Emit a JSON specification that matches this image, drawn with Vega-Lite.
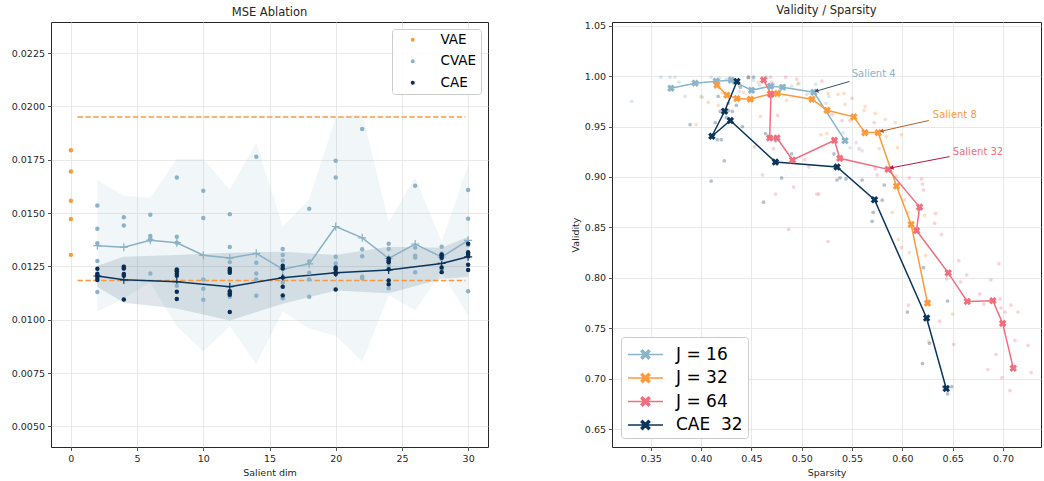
{
  "$schema": "https://vega.github.io/schema/vega-lite/v6.json",
  "background": "white",
  "padding": {"left": 10, "top": 4, "right": 2, "bottom": 2},
  "spacing": 80,
  "config": {
    "font": "DejaVu Sans",
    "view": {"stroke": "#262626", "strokeWidth": 1},
    "axis": {"domain": false, "grid": true, "gridColor": "#e3e3e3", "gridWidth": 0.8, "tickColor": "#262626", "tickSize": 3.5, "tickWidth": 0.8, "labelFont": "DejaVu Sans", "labelFontSize": 9.5, "labelColor": "#262626", "labelPadding": 3, "titleFont": "DejaVu Sans", "titleFontSize": 9.5, "titleFontWeight": "normal", "titleColor": "#262626", "titlePadding": 4},
    "title": {"font": "DejaVu Sans", "fontSize": 11.5, "fontWeight": "normal", "color": "#262626", "offset": 4}
  },
  "resolve": {"scale": {"color": "independent", "fill": "independent", "stroke": "independent"}, "legend": {"color": "independent", "fill": "independent", "stroke": "independent"}},
  "datasets": {
    "mse": [
      {"model": "VAE", "dim": 0, "mse": 0.01795}, {"model": "VAE", "dim": 0, "mse": 0.01695}, {"model": "VAE", "dim": 0, "mse": 0.01558}, {"model": "VAE", "dim": 0, "mse": 0.01472}, {"model": "VAE", "dim": 0, "mse": 0.01304},
      {"model": "CVAE", "dim": 2, "mse": 0.01536}, {"model": "CVAE", "dim": 2, "mse": 0.01426}, {"model": "CVAE", "dim": 2, "mse": 0.01358}, {"model": "CVAE", "dim": 2, "mse": 0.01275}, {"model": "CVAE", "dim": 2, "mse": 0.0113},
      {"model": "CVAE", "dim": 4, "mse": 0.0148}, {"model": "CVAE", "dim": 4, "mse": 0.01442}, {"model": "CVAE", "dim": 4, "mse": 0.01248}, {"model": "CVAE", "dim": 4, "mse": 0.0124}, {"model": "CVAE", "dim": 4, "mse": 0.0121},
      {"model": "CVAE", "dim": 6, "mse": 0.01492}, {"model": "CVAE", "dim": 6, "mse": 0.01392}, {"model": "CVAE", "dim": 6, "mse": 0.0138}, {"model": "CVAE", "dim": 6, "mse": 0.01375}, {"model": "CVAE", "dim": 6, "mse": 0.01217},
      {"model": "CVAE", "dim": 8, "mse": 0.01667}, {"model": "CVAE", "dim": 8, "mse": 0.01389}, {"model": "CVAE", "dim": 8, "mse": 0.01361}, {"model": "CVAE", "dim": 8, "mse": 0.0123}, {"model": "CVAE", "dim": 8, "mse": 0.01159},
      {"model": "CVAE", "dim": 10, "mse": 0.01605}, {"model": "CVAE", "dim": 10, "mse": 0.01477}, {"model": "CVAE", "dim": 10, "mse": 0.01189}, {"model": "CVAE", "dim": 10, "mse": 0.01145}, {"model": "CVAE", "dim": 10, "mse": 0.01094},
      {"model": "CVAE", "dim": 12, "mse": 0.01495}, {"model": "CVAE", "dim": 12, "mse": 0.01341}, {"model": "CVAE", "dim": 12, "mse": 0.0127}, {"model": "CVAE", "dim": 12, "mse": 0.0123}, {"model": "CVAE", "dim": 12, "mse": 0.01108},
      {"model": "CVAE", "dim": 14, "mse": 0.01764}, {"model": "CVAE", "dim": 14, "mse": 0.01267}, {"model": "CVAE", "dim": 14, "mse": 0.01217}, {"model": "CVAE", "dim": 14, "mse": 0.01189}, {"model": "CVAE", "dim": 14, "mse": 0.01112},
      {"model": "CVAE", "dim": 16, "mse": 0.01331}, {"model": "CVAE", "dim": 16, "mse": 0.01303}, {"model": "CVAE", "dim": 16, "mse": 0.01277}, {"model": "CVAE", "dim": 16, "mse": 0.01174}, {"model": "CVAE", "dim": 16, "mse": 0.011},
      {"model": "CVAE", "dim": 18, "mse": 0.0152}, {"model": "CVAE", "dim": 18, "mse": 0.01273}, {"model": "CVAE", "dim": 18, "mse": 0.0122}, {"model": "CVAE", "dim": 18, "mse": 0.0119}, {"model": "CVAE", "dim": 18, "mse": 0.01108},
      {"model": "CVAE", "dim": 20, "mse": 0.01745}, {"model": "CVAE", "dim": 20, "mse": 0.01667}, {"model": "CVAE", "dim": 20, "mse": 0.01295}, {"model": "CVAE", "dim": 20, "mse": 0.01264}, {"model": "CVAE", "dim": 20, "mse": 0.01241},
      {"model": "CVAE", "dim": 22, "mse": 0.01894}, {"model": "CVAE", "dim": 22, "mse": 0.0133}, {"model": "CVAE", "dim": 22, "mse": 0.01298}, {"model": "CVAE", "dim": 22, "mse": 0.01201}, {"model": "CVAE", "dim": 22, "mse": 0.01194},
      {"model": "CVAE", "dim": 24, "mse": 0.01356}, {"model": "CVAE", "dim": 24, "mse": 0.01331}, {"model": "CVAE", "dim": 24, "mse": 0.01275}, {"model": "CVAE", "dim": 24, "mse": 0.01253}, {"model": "CVAE", "dim": 24, "mse": 0.01147},
      {"model": "CVAE", "dim": 26, "mse": 0.01628}, {"model": "CVAE", "dim": 26, "mse": 0.01339}, {"model": "CVAE", "dim": 26, "mse": 0.013}, {"model": "CVAE", "dim": 26, "mse": 0.01292}, {"model": "CVAE", "dim": 26, "mse": 0.01222},
      {"model": "CVAE", "dim": 28, "mse": 0.01342}, {"model": "CVAE", "dim": 28, "mse": 0.0131}, {"model": "CVAE", "dim": 28, "mse": 0.01298}, {"model": "CVAE", "dim": 28, "mse": 0.01285}, {"model": "CVAE", "dim": 28, "mse": 0.01235},
      {"model": "CVAE", "dim": 30, "mse": 0.01608}, {"model": "CVAE", "dim": 30, "mse": 0.01473}, {"model": "CVAE", "dim": 30, "mse": 0.0135}, {"model": "CVAE", "dim": 30, "mse": 0.01296}, {"model": "CVAE", "dim": 30, "mse": 0.01133},
      {"model": "CAE", "dim": 2, "mse": 0.01239}, {"model": "CAE", "dim": 2, "mse": 0.01215}, {"model": "CAE", "dim": 2, "mse": 0.01208}, {"model": "CAE", "dim": 2, "mse": 0.01197}, {"model": "CAE", "dim": 2, "mse": 0.01186},
      {"model": "CAE", "dim": 4, "mse": 0.01248}, {"model": "CAE", "dim": 4, "mse": 0.0124}, {"model": "CAE", "dim": 4, "mse": 0.01214}, {"model": "CAE", "dim": 4, "mse": 0.01206}, {"model": "CAE", "dim": 4, "mse": 0.01095},
      {"model": "CAE", "dim": 8, "mse": 0.01236}, {"model": "CAE", "dim": 8, "mse": 0.01227}, {"model": "CAE", "dim": 8, "mse": 0.01217}, {"model": "CAE", "dim": 8, "mse": 0.01206}, {"model": "CAE", "dim": 8, "mse": 0.01131}, {"model": "CAE", "dim": 8, "mse": 0.01097},
      {"model": "CAE", "dim": 12, "mse": 0.01239}, {"model": "CAE", "dim": 12, "mse": 0.0123}, {"model": "CAE", "dim": 12, "mse": 0.0122}, {"model": "CAE", "dim": 12, "mse": 0.01133}, {"model": "CAE", "dim": 12, "mse": 0.01123}, {"model": "CAE", "dim": 12, "mse": 0.01117}, {"model": "CAE", "dim": 12, "mse": 0.01036},
      {"model": "CAE", "dim": 16, "mse": 0.01253}, {"model": "CAE", "dim": 16, "mse": 0.0124}, {"model": "CAE", "dim": 16, "mse": 0.01198}, {"model": "CAE", "dim": 16, "mse": 0.01154}, {"model": "CAE", "dim": 16, "mse": 0.01114},
      {"model": "CAE", "dim": 20, "mse": 0.01245}, {"model": "CAE", "dim": 20, "mse": 0.01237}, {"model": "CAE", "dim": 20, "mse": 0.01223}, {"model": "CAE", "dim": 20, "mse": 0.01214}, {"model": "CAE", "dim": 20, "mse": 0.01142},
      {"model": "CAE", "dim": 24, "mse": 0.01287}, {"model": "CAE", "dim": 24, "mse": 0.01278}, {"model": "CAE", "dim": 24, "mse": 0.01269}, {"model": "CAE", "dim": 24, "mse": 0.01237}, {"model": "CAE", "dim": 24, "mse": 0.01184}, {"model": "CAE", "dim": 24, "mse": 0.01166},
      {"model": "CAE", "dim": 28, "mse": 0.01306}, {"model": "CAE", "dim": 28, "mse": 0.013}, {"model": "CAE", "dim": 28, "mse": 0.0129}, {"model": "CAE", "dim": 28, "mse": 0.01245}, {"model": "CAE", "dim": 28, "mse": 0.01223},
      {"model": "CAE", "dim": 30, "mse": 0.01356}, {"model": "CAE", "dim": 30, "mse": 0.01316}, {"model": "CAE", "dim": 30, "mse": 0.01308}, {"model": "CAE", "dim": 30, "mse": 0.01298}, {"model": "CAE", "dim": 30, "mse": 0.01258}, {"model": "CAE", "dim": 30, "mse": 0.01233}
    ],
    "stats": [
      {"model": "CVAE", "dim": 2, "mean": 0.01347, "lo": 0.01039, "hi": 0.01655},
      {"model": "CVAE", "dim": 4, "mean": 0.0134, "lo": 0.01099, "hi": 0.01581},
      {"model": "CVAE", "dim": 6, "mean": 0.01373, "lo": 0.01174, "hi": 0.01572},
      {"model": "CVAE", "dim": 8, "mean": 0.01361, "lo": 0.00969, "hi": 0.01753},
      {"model": "CVAE", "dim": 10, "mean": 0.01302, "lo": 0.00851, "hi": 0.01753},
      {"model": "CVAE", "dim": 12, "mean": 0.01289, "lo": 0.00968, "hi": 0.0161},
      {"model": "CVAE", "dim": 14, "mean": 0.01311, "lo": 0.00792, "hi": 0.0183},
      {"model": "CVAE", "dim": 16, "mean": 0.01237, "lo": 0.01038, "hi": 0.01436},
      {"model": "CVAE", "dim": 18, "mean": 0.01262, "lo": 0.00959, "hi": 0.01565},
      {"model": "CVAE", "dim": 20, "mean": 0.01437, "lo": 0.00925, "hi": 0.01949},
      {"model": "CVAE", "dim": 22, "mean": 0.01384, "lo": 0.00804, "hi": 0.01964},
      {"model": "CVAE", "dim": 24, "mean": 0.01287, "lo": 0.01115, "hi": 0.01459},
      {"model": "CVAE", "dim": 26, "mean": 0.01355, "lo": 0.01043, "hi": 0.01667},
      {"model": "CVAE", "dim": 28, "mean": 0.01294, "lo": 0.01222, "hi": 0.01366},
      {"model": "CVAE", "dim": 30, "mean": 0.01372, "lo": 0.01019, "hi": 0.01725},
      {"model": "CAE", "dim": 2, "mean": 0.01205, "lo": 0.01155, "hi": 0.01253},
      {"model": "CAE", "dim": 4, "mean": 0.01187, "lo": 0.01079, "hi": 0.01295},
      {"model": "CAE", "dim": 8, "mean": 0.01178, "lo": 0.01053, "hi": 0.01303},
      {"model": "CAE", "dim": 12, "mean": 0.01155, "lo": 0.00996, "hi": 0.01314},
      {"model": "CAE", "dim": 16, "mean": 0.01197, "lo": 0.01075, "hi": 0.01319},
      {"model": "CAE", "dim": 20, "mean": 0.0122, "lo": 0.01137, "hi": 0.01303},
      {"model": "CAE", "dim": 24, "mean": 0.01233, "lo": 0.01124, "hi": 0.01342},
      {"model": "CAE", "dim": 28, "mean": 0.01264, "lo": 0.01191, "hi": 0.01337},
      {"model": "CAE", "dim": 30, "mean": 0.01295, "lo": 0.01201, "hi": 0.01389}
    ],
    "baselines": [
      {"x0": 0.5, "x1": 29.8, "mse": 0.01951},
      {"x0": 0.5, "x1": 29.8, "mse": 0.01184}
    ],
    "lines": [
      {"series": "J = 16", "i": 0, "s": 0.370, "v": 0.988}, {"series": "J = 16", "i": 1, "s": 0.394, "v": 0.993}, {"series": "J = 16", "i": 2, "s": 0.415, "v": 0.995}, {"series": "J = 16", "i": 3, "s": 0.430, "v": 0.996}, {"series": "J = 16", "i": 4, "s": 0.450, "v": 0.986}, {"series": "J = 16", "i": 5, "s": 0.469, "v": 0.990}, {"series": "J = 16", "i": 6, "s": 0.481, "v": 0.989}, {"series": "J = 16", "i": 7, "s": 0.512, "v": 0.984}, {"series": "J = 16", "i": 8, "s": 0.543, "v": 0.936},
      {"series": "J = 32", "i": 0, "s": 0.4157, "v": 0.9911}, {"series": "J = 32", "i": 1, "s": 0.4256, "v": 0.9811}, {"series": "J = 32", "i": 2, "s": 0.4356, "v": 0.9778}, {"series": "J = 32", "i": 3, "s": 0.4489, "v": 0.9771}, {"series": "J = 32", "i": 4, "s": 0.4688, "v": 0.9824}, {"series": "J = 32", "i": 5, "s": 0.4758, "v": 0.9828}, {"series": "J = 32", "i": 6, "s": 0.5102, "v": 0.9771}, {"series": "J = 32", "i": 7, "s": 0.5251, "v": 0.9662}, {"series": "J = 32", "i": 8, "s": 0.5517, "v": 0.9596}, {"series": "J = 32", "i": 9, "s": 0.5627, "v": 0.944}, {"series": "J = 32", "i": 10, "s": 0.5759, "v": 0.944}, {"series": "J = 32", "i": 11, "s": 0.5942, "v": 0.891}, {"series": "J = 32", "i": 12, "s": 0.6087, "v": 0.8529}, {"series": "J = 32", "i": 13, "s": 0.625, "v": 0.775},
      {"series": "J = 64", "i": 0, "s": 0.4621, "v": 0.9963}, {"series": "J = 64", "i": 1, "s": 0.4694, "v": 0.9821}, {"series": "J = 64", "i": 2, "s": 0.4681, "v": 0.9387}, {"series": "J = 64", "i": 3, "s": 0.4754, "v": 0.9387}, {"series": "J = 64", "i": 4, "s": 0.4908, "v": 0.9168}, {"series": "J = 64", "i": 5, "s": 0.5325, "v": 0.9364}, {"series": "J = 64", "i": 6, "s": 0.5378, "v": 0.9185}, {"series": "J = 64", "i": 7, "s": 0.5858, "v": 0.9076}, {"series": "J = 64", "i": 8, "s": 0.6171, "v": 0.8701}, {"series": "J = 64", "i": 9, "s": 0.6141, "v": 0.8469}, {"series": "J = 64", "i": 10, "s": 0.6456, "v": 0.8049}, {"series": "J = 64", "i": 11, "s": 0.6645, "v": 0.7766}, {"series": "J = 64", "i": 12, "s": 0.69, "v": 0.7773}, {"series": "J = 64", "i": 13, "s": 0.6997, "v": 0.7548}, {"series": "J = 64", "i": 14, "s": 0.7102, "v": 0.7104},
      {"series": "\u00a0CAE\u00a0\u00a032", "i": 0, "s": 0.4356, "v": 0.9947}, {"series": "\u00a0CAE\u00a0\u00a032", "i": 1, "s": 0.4233, "v": 0.9652}, {"series": "\u00a0CAE\u00a0\u00a032", "i": 2, "s": 0.4107, "v": 0.9404}, {"series": "\u00a0CAE\u00a0\u00a032", "i": 3, "s": 0.429, "v": 0.956}, {"series": "\u00a0CAE\u00a0\u00a032", "i": 4, "s": 0.4738, "v": 0.9148}, {"series": "\u00a0CAE\u00a0\u00a032", "i": 5, "s": 0.5351, "v": 0.9099}, {"series": "\u00a0CAE\u00a0\u00a032", "i": 6, "s": 0.5723, "v": 0.8774}, {"series": "\u00a0CAE\u00a0\u00a032", "i": 7, "s": 0.6241, "v": 0.7601}, {"series": "\u00a0CAE\u00a0\u00a032", "i": 8, "s": 0.6436, "v": 0.6902}
    ],
    "cloud": [
      {"series": "J = 16", "s": 0.331, "v": 0.975}, {"series": "J = 16", "s": 0.36, "v": 0.999}, {"series": "J = 16", "s": 0.369, "v": 0.999}, {"series": "J = 16", "s": 0.374, "v": 0.999}, {"series": "J = 16", "s": 0.378, "v": 0.994}, {"series": "J = 16", "s": 0.384, "v": 0.98}, {"series": "J = 16", "s": 0.401, "v": 0.979}, {"series": "J = 16", "s": 0.41, "v": 0.999}, {"series": "J = 16", "s": 0.418, "v": 0.998}, {"series": "J = 16", "s": 0.425, "v": 0.997}, {"series": "J = 16", "s": 0.432, "v": 0.993}, {"series": "J = 16", "s": 0.438, "v": 0.985}, {"series": "J = 16", "s": 0.447, "v": 0.999}, {"series": "J = 16", "s": 0.452, "v": 0.996}, {"series": "J = 16", "s": 0.458, "v": 0.991}, {"series": "J = 16", "s": 0.465, "v": 0.999}, {"series": "J = 16", "s": 0.472, "v": 0.992}, {"series": "J = 16", "s": 0.478, "v": 0.985}, {"series": "J = 16", "s": 0.49, "v": 0.99}, {"series": "J = 16", "s": 0.497, "v": 0.993}, {"series": "J = 16", "s": 0.505, "v": 0.982}, {"series": "J = 16", "s": 0.514, "v": 0.992}, {"series": "J = 16", "s": 0.527, "v": 0.98}, {"series": "J = 16", "s": 0.524, "v": 0.973}, {"series": "J = 16", "s": 0.548, "v": 0.929}, {"series": "J = 16", "s": 0.554, "v": 0.934}, {"series": "J = 16", "s": 0.56, "v": 0.926}, {"series": "J = 16", "s": 0.541, "v": 0.944},
      {"series": "J = 32", "s": 0.395, "v": 0.952}, {"series": "J = 32", "s": 0.4, "v": 0.98}, {"series": "J = 32", "s": 0.407, "v": 0.974}, {"series": "J = 32", "s": 0.417, "v": 0.971}, {"series": "J = 32", "s": 0.421, "v": 0.984}, {"series": "J = 32", "s": 0.429, "v": 0.999}, {"series": "J = 32", "s": 0.442, "v": 0.984}, {"series": "J = 32", "s": 0.457, "v": 0.994}, {"series": "J = 32", "s": 0.459, "v": 0.96}, {"series": "J = 32", "s": 0.485, "v": 0.976}, {"series": "J = 32", "s": 0.496, "v": 0.992}, {"series": "J = 32", "s": 0.447, "v": 0.998}, {"series": "J = 32", "s": 0.438, "v": 0.991}, {"series": "J = 32", "s": 0.526, "v": 0.983}, {"series": "J = 32", "s": 0.536, "v": 0.982}, {"series": "J = 32", "s": 0.542, "v": 0.983}, {"series": "J = 32", "s": 0.543, "v": 0.972}, {"series": "J = 32", "s": 0.562, "v": 0.966}, {"series": "J = 32", "s": 0.563, "v": 0.97}, {"series": "J = 32", "s": 0.573, "v": 0.963}, {"series": "J = 32", "s": 0.583, "v": 0.957}, {"series": "J = 32", "s": 0.593, "v": 0.954}, {"series": "J = 32", "s": 0.599, "v": 0.942}, {"series": "J = 32", "s": 0.584, "v": 0.94}, {"series": "J = 32", "s": 0.595, "v": 0.929}, {"series": "J = 32", "s": 0.577, "v": 0.928}, {"series": "J = 32", "s": 0.519, "v": 0.942}, {"series": "J = 32", "s": 0.525, "v": 0.943}, {"series": "J = 32", "s": 0.59, "v": 0.865}, {"series": "J = 32", "s": 0.606, "v": 0.865}, {"series": "J = 32", "s": 0.596, "v": 0.838}, {"series": "J = 32", "s": 0.607, "v": 0.825}, {"series": "J = 32", "s": 0.622, "v": 0.862}, {"series": "J = 32", "s": 0.623, "v": 0.822}, {"series": "J = 32", "s": 0.594, "v": 0.901}, {"series": "J = 32", "s": 0.65, "v": 0.764}, {"series": "J = 32", "s": 0.626, "v": 0.737}, {"series": "J = 32", "s": 0.602, "v": 0.877},
      {"series": "J = 64", "s": 0.453, "v": 0.93}, {"series": "J = 64", "s": 0.461, "v": 0.902}, {"series": "J = 64", "s": 0.47, "v": 0.994}, {"series": "J = 64", "s": 0.476, "v": 0.961}, {"series": "J = 64", "s": 0.484, "v": 0.999}, {"series": "J = 64", "s": 0.472, "v": 0.928}, {"series": "J = 64", "s": 0.474, "v": 0.883}, {"series": "J = 64", "s": 0.492, "v": 0.89}, {"series": "J = 64", "s": 0.503, "v": 0.917}, {"series": "J = 64", "s": 0.507, "v": 0.91}, {"series": "J = 64", "s": 0.515, "v": 0.883}, {"series": "J = 64", "s": 0.52, "v": 0.995}, {"series": "J = 64", "s": 0.55, "v": 0.978}, {"series": "J = 64", "s": 0.53, "v": 0.962}, {"series": "J = 64", "s": 0.54, "v": 0.956}, {"series": "J = 64", "s": 0.548, "v": 0.956}, {"series": "J = 64", "s": 0.572, "v": 0.954}, {"series": "J = 64", "s": 0.573, "v": 0.908}, {"series": "J = 64", "s": 0.575, "v": 0.902}, {"series": "J = 64", "s": 0.607, "v": 0.899}, {"series": "J = 64", "s": 0.619, "v": 0.898}, {"series": "J = 64", "s": 0.62, "v": 0.893}, {"series": "J = 64", "s": 0.621, "v": 0.887}, {"series": "J = 64", "s": 0.517, "v": 0.883}, {"series": "J = 64", "s": 0.557, "v": 0.928}, {"series": "J = 64", "s": 0.487, "v": 0.848}, {"series": "J = 64", "s": 0.526, "v": 0.836}, {"series": "J = 64", "s": 0.599, "v": 0.83}, {"series": "J = 64", "s": 0.633, "v": 0.864}, {"series": "J = 64", "s": 0.632, "v": 0.854}, {"series": "J = 64", "s": 0.639, "v": 0.843}, {"series": "J = 64", "s": 0.644, "v": 0.799}, {"series": "J = 64", "s": 0.606, "v": 0.773}, {"series": "J = 64", "s": 0.656, "v": 0.817}, {"series": "J = 64", "s": 0.664, "v": 0.803}, {"series": "J = 64", "s": 0.658, "v": 0.796}, {"series": "J = 64", "s": 0.677, "v": 0.784}, {"series": "J = 64", "s": 0.681, "v": 0.774}, {"series": "J = 64", "s": 0.688, "v": 0.798}, {"series": "J = 64", "s": 0.696, "v": 0.814}, {"series": "J = 64", "s": 0.697, "v": 0.779}, {"series": "J = 64", "s": 0.698, "v": 0.77}, {"series": "J = 64", "s": 0.702, "v": 0.766}, {"series": "J = 64", "s": 0.708, "v": 0.773}, {"series": "J = 64", "s": 0.715, "v": 0.766}, {"series": "J = 64", "s": 0.712, "v": 0.738}, {"series": "J = 64", "s": 0.725, "v": 0.733}, {"series": "J = 64", "s": 0.693, "v": 0.724}, {"series": "J = 64", "s": 0.685, "v": 0.709}, {"series": "J = 64", "s": 0.699, "v": 0.701}, {"series": "J = 64", "s": 0.728, "v": 0.706}, {"series": "J = 64", "s": 0.707, "v": 0.688}, {"series": "J = 64", "s": 0.637, "v": 0.757}, {"series": "J = 64", "s": 0.651, "v": 0.734}, {"series": "J = 64", "s": 0.469, "v": 0.999}, {"series": "J = 64", "s": 0.495, "v": 0.997},
      {"series": "\u00a0CAE\u00a0\u00a032", "s": 0.389, "v": 0.952}, {"series": "\u00a0CAE\u00a0\u00a032", "s": 0.41, "v": 0.896}, {"series": "\u00a0CAE\u00a0\u00a032", "s": 0.417, "v": 0.98}, {"series": "\u00a0CAE\u00a0\u00a032", "s": 0.419, "v": 0.965}, {"series": "\u00a0CAE\u00a0\u00a032", "s": 0.423, "v": 0.916}, {"series": "\u00a0CAE\u00a0\u00a032", "s": 0.416, "v": 0.937}, {"series": "\u00a0CAE\u00a0\u00a032", "s": 0.414, "v": 0.954}, {"series": "\u00a0CAE\u00a0\u00a032", "s": 0.425, "v": 0.959}, {"series": "\u00a0CAE\u00a0\u00a032", "s": 0.427, "v": 0.966}, {"series": "\u00a0CAE\u00a0\u00a032", "s": 0.431, "v": 0.965}, {"series": "\u00a0CAE\u00a0\u00a032", "s": 0.435, "v": 0.971}, {"series": "\u00a0CAE\u00a0\u00a032", "s": 0.447, "v": 0.999}, {"series": "\u00a0CAE\u00a0\u00a032", "s": 0.452, "v": 0.999}, {"series": "\u00a0CAE\u00a0\u00a032", "s": 0.439, "v": 0.989}, {"series": "\u00a0CAE\u00a0\u00a032", "s": 0.464, "v": 0.943}, {"series": "\u00a0CAE\u00a0\u00a032", "s": 0.474, "v": 0.936}, {"series": "\u00a0CAE\u00a0\u00a032", "s": 0.48, "v": 0.899}, {"series": "\u00a0CAE\u00a0\u00a032", "s": 0.49, "v": 0.923}, {"series": "\u00a0CAE\u00a0\u00a032", "s": 0.42, "v": 0.937}, {"series": "\u00a0CAE\u00a0\u00a032", "s": 0.441, "v": 0.95}, {"series": "\u00a0CAE\u00a0\u00a032", "s": 0.462, "v": 0.875}, {"series": "\u00a0CAE\u00a0\u00a032", "s": 0.532, "v": 0.923}, {"series": "\u00a0CAE\u00a0\u00a032", "s": 0.535, "v": 0.897}, {"series": "\u00a0CAE\u00a0\u00a032", "s": 0.538, "v": 0.899}, {"series": "\u00a0CAE\u00a0\u00a032", "s": 0.544, "v": 0.898}, {"series": "\u00a0CAE\u00a0\u00a032", "s": 0.56, "v": 0.897}, {"series": "\u00a0CAE\u00a0\u00a032", "s": 0.582, "v": 0.892}, {"series": "\u00a0CAE\u00a0\u00a032", "s": 0.58, "v": 0.877}, {"series": "\u00a0CAE\u00a0\u00a032", "s": 0.571, "v": 0.865}, {"series": "\u00a0CAE\u00a0\u00a032", "s": 0.57, "v": 0.856}, {"series": "\u00a0CAE\u00a0\u00a032", "s": 0.621, "v": 0.81}, {"series": "\u00a0CAE\u00a0\u00a032", "s": 0.605, "v": 0.766}, {"series": "\u00a0CAE\u00a0\u00a032", "s": 0.645, "v": 0.777}, {"series": "\u00a0CAE\u00a0\u00a032", "s": 0.627, "v": 0.735}, {"series": "\u00a0CAE\u00a0\u00a032", "s": 0.62, "v": 0.715}, {"series": "\u00a0CAE\u00a0\u00a032", "s": 0.641, "v": 0.692}, {"series": "\u00a0CAE\u00a0\u00a032", "s": 0.649, "v": 0.692}, {"series": "\u00a0CAE\u00a0\u00a032", "s": 0.645, "v": 0.685}, {"series": "\u00a0CAE\u00a0\u00a032", "s": 0.427, "v": 0.973}
    ],
    "ann": [
      {"series": "J = 16", "akey": "a4", "label": "Salient 4", "s0": 0.5474, "v0": 0.9947, "s1": 0.5152, "v1": 0.9854, "ts": 0.5496, "tv": 0.9987},
      {"series": "J = 32", "akey": "a8", "label": "Salient 8", "s0": 0.6263, "v0": 0.956, "s1": 0.5799, "v1": 0.9456, "ts": 0.6303, "tv": 0.958},
      {"series": "J = 64", "akey": "a32", "label": "Salient 32", "s0": 0.6469, "v0": 0.9202, "s1": 0.5898, "v1": 0.9092, "ts": 0.6502, "tv": 0.9215}
    ]
  },
  "hconcat": [
    {
      "width": 437,
      "height": 425,
      "title": "MSE Ablation",
      "encoding": {
        "x": {"field": "dim", "type": "quantitative", "scale": {"domain": [-1.5, 31.5], "nice": false, "zero": false}, "axis": {"values": [0, 5, 10, 15, 20, 25, 30], "title": "Salient dim"}}
      },
      "layer": [
        {"data": {"name": "stats"}, "transform": [{"filter": "datum.model === 'CVAE'"}], "mark": {"type": "area", "fill": "#8cb1c5", "opacity": 0.12},
         "encoding": {"y": {"field": "lo", "type": "quantitative", "scale": {"domain": [0.00403, 0.02396], "nice": false, "zero": false}, "axis": {"values": [0.005, 0.0075, 0.01, 0.0125, 0.015, 0.0175, 0.02, 0.0225], "format": ".4f", "title": null}}, "y2": {"field": "hi"}}},
        {"data": {"name": "stats"}, "transform": [{"filter": "datum.model === 'CAE'"}], "mark": {"type": "area", "fill": "#0b355c", "opacity": 0.13},
         "encoding": {"y": {"field": "lo", "type": "quantitative"}, "y2": {"field": "hi"}}},
        {"data": {"name": "baselines"}, "mark": {"type": "rule", "color": "#fa9a3f", "strokeWidth": 1.5, "strokeDash": [5.5, 2.4]},
         "encoding": {"x": {"field": "x0", "type": "quantitative"}, "x2": {"field": "x1"}, "y": {"field": "mse", "type": "quantitative"}}},
        {"data": {"name": "stats"}, "transform": [{"filter": "datum.model === 'CVAE'"}], "mark": {"type": "line", "color": "#8ab0c4", "strokeWidth": 1.5},
         "encoding": {"y": {"field": "mean", "type": "quantitative"}}},
        {"data": {"name": "stats"}, "transform": [{"filter": "datum.model === 'CVAE'"}], "mark": {"type": "point", "shape": "M-1,0H1M0,-1V1", "filled": false, "stroke": "#8ab0c4", "strokeWidth": 1.2, "size": 64, "opacity": 1},
         "encoding": {"y": {"field": "mean", "type": "quantitative"}}},
        {"data": {"name": "stats"}, "transform": [{"filter": "datum.model === 'CAE'"}], "mark": {"type": "line", "color": "#0b355c", "strokeWidth": 1.5},
         "encoding": {"y": {"field": "mean", "type": "quantitative"}}},
        {"data": {"name": "stats"}, "transform": [{"filter": "datum.model === 'CAE'"}], "mark": {"type": "point", "shape": "M-1,0H1M0,-1V1", "filled": false, "stroke": "#0b355c", "strokeWidth": 1.2, "size": 64, "opacity": 1},
         "encoding": {"y": {"field": "mean", "type": "quantitative"}}},
        {"data": {"name": "mse"}, "mark": {"type": "circle", "size": 20, "opacity": 1},
         "encoding": {"y": {"field": "mse", "type": "quantitative"},
           "color": {"field": "model", "type": "nominal", "sort": null, "scale": {"domain": ["VAE", "CVAE", "CAE"], "range": ["#fa9a3f", "#8db2c6", "#0a2d54"]},
             "legend": {"title": null, "orient": "top-right", "offset": 7, "fillColor": "rgba(255,255,255,0.85)", "strokeColor": "#cccccc", "cornerRadius": 3, "padding": 4, "labelFont": "DejaVu Sans", "labelFontSize": 13.5, "labelColor": "#000000", "symbolType": "circle", "symbolSize": 16, "symbolOffset": 10, "labelOffset": 21, "rowPadding": 6.5, "symbolStrokeWidth": 0}}}}
      ]
    },
    {
      "width": 429,
      "height": 425,
      "title": "Validity / Sparsity",
      "layer": [
        {"data": {"name": "cloud"}, "mark": {"type": "circle", "size": 14, "opacity": 0.3},
         "encoding": {
           "x": {"field": "s", "type": "quantitative", "scale": {"domain": [0.3114, 0.7378], "nice": false, "zero": false}, "axis": {"values": [0.35, 0.4, 0.45, 0.5, 0.55, 0.6, 0.65, 0.7], "format": ".2f", "title": "Sparsity"}},
           "y": {"field": "v", "type": "quantitative", "scale": {"domain": [0.6322, 1.0537], "nice": false, "zero": false}, "axis": {"values": [0.65, 0.7, 0.75, 0.8, 0.85, 0.9, 0.95, 1.0, 1.05], "format": ".2f", "title": "Validity"}},
           "color": {"field": "series", "type": "nominal", "scale": {"domain": ["J = 16", "J = 32", "J = 64", "\u00a0CAE\u00a0\u00a032", "a4", "a8", "a32"], "range": ["#8ab4c9", "#fd9a3b", "#f26d7d", "#0b355c", "#34506e", "#b45f2a", "#b1193f"]}, "legend": null}}},
        {"data": {"name": "lines"}, "mark": {"type": "line", "strokeWidth": 1.5},
         "encoding": {"x": {"field": "s", "type": "quantitative"}, "y": {"field": "v", "type": "quantitative"}, "order": {"field": "i", "type": "quantitative"},
           "stroke": {"field": "series", "type": "nominal", "sort": null, "scale": {"domain": ["J = 16", "J = 32", "J = 64", "\u00a0CAE\u00a0\u00a032"], "range": ["#8ab4c9", "#fd9a3b", "#f26d7d", "#0b355c"]},
             "legend": {"title": null, "orient": "bottom-left", "offset": 8.7, "fillColor": "rgba(255,255,255,0.85)", "strokeColor": "#cccccc", "cornerRadius": 3, "padding": 4.5, "labelFont": "DejaVu Sans", "labelFontSize": 17, "labelColor": "#000000", "symbolType": "M-1.46,0H1.46M-0.24,-0.36L0.36,0.24L0.24,0.36L-0.36,-0.24ZM-0.36,0.24L0.24,-0.36L0.36,-0.24L-0.24,0.36Z", "symbolSize": 576, "symbolStrokeWidth": 1.5, "symbolOffset": 7, "labelOffset": 17.5, "rowPadding": 2.5}}}},
        {"data": {"name": "lines"}, "mark": {"type": "point", "shape": "cross", "angle": 45, "filled": true, "size": 58, "opacity": 1},
         "encoding": {"x": {"field": "s", "type": "quantitative"}, "y": {"field": "v", "type": "quantitative"},
           "fill": {"field": "series", "type": "nominal", "sort": null, "scale": {"domain": ["J = 16", "J = 32", "J = 64", "\u00a0CAE\u00a0\u00a032"], "range": ["#8ab4c9", "#fd9a3b", "#f26d7d", "#0b355c"]},
             "legend": {"title": null, "orient": "bottom-left", "offset": 8.7, "fillColor": "rgba(255,255,255,0.85)", "strokeColor": "#cccccc", "cornerRadius": 3, "padding": 4.5, "labelFont": "DejaVu Sans", "labelFontSize": 17, "labelColor": "#000000", "symbolType": "M-1.46,0H1.46M-0.24,-0.36L0.36,0.24L0.24,0.36L-0.36,-0.24ZM-0.36,0.24L0.24,-0.36L0.36,-0.24L-0.24,0.36Z", "symbolSize": 576, "symbolStrokeWidth": 1.5, "symbolOffset": 7, "labelOffset": 17.5, "rowPadding": 2.5}}}},
        {"data": {"name": "ann"}, "mark": {"type": "rule", "strokeWidth": 1},
         "encoding": {"x": {"field": "s0", "type": "quantitative"}, "y": {"field": "v0", "type": "quantitative"}, "x2": {"field": "s1"}, "y2": {"field": "v1"},
           "color": {"field": "akey", "type": "nominal", "legend": null}}},
        {"data": {"name": "ann"}, "mark": {"type": "point", "shape": "triangle", "angle": 257, "filled": true, "size": 22, "opacity": 1},
         "encoding": {"x": {"field": "s1", "type": "quantitative"}, "y": {"field": "v1", "type": "quantitative"},
           "color": {"field": "akey", "type": "nominal", "legend": null}}},
        {"data": {"name": "ann"}, "mark": {"type": "text", "align": "left", "baseline": "alphabetic", "fontSize": 10, "font": "DejaVu Sans"},
         "encoding": {"x": {"field": "ts", "type": "quantitative"}, "y": {"field": "tv", "type": "quantitative"}, "text": {"field": "label"},
           "fill": {"field": "series", "type": "nominal"}}}
      ]
    }
  ]
}
